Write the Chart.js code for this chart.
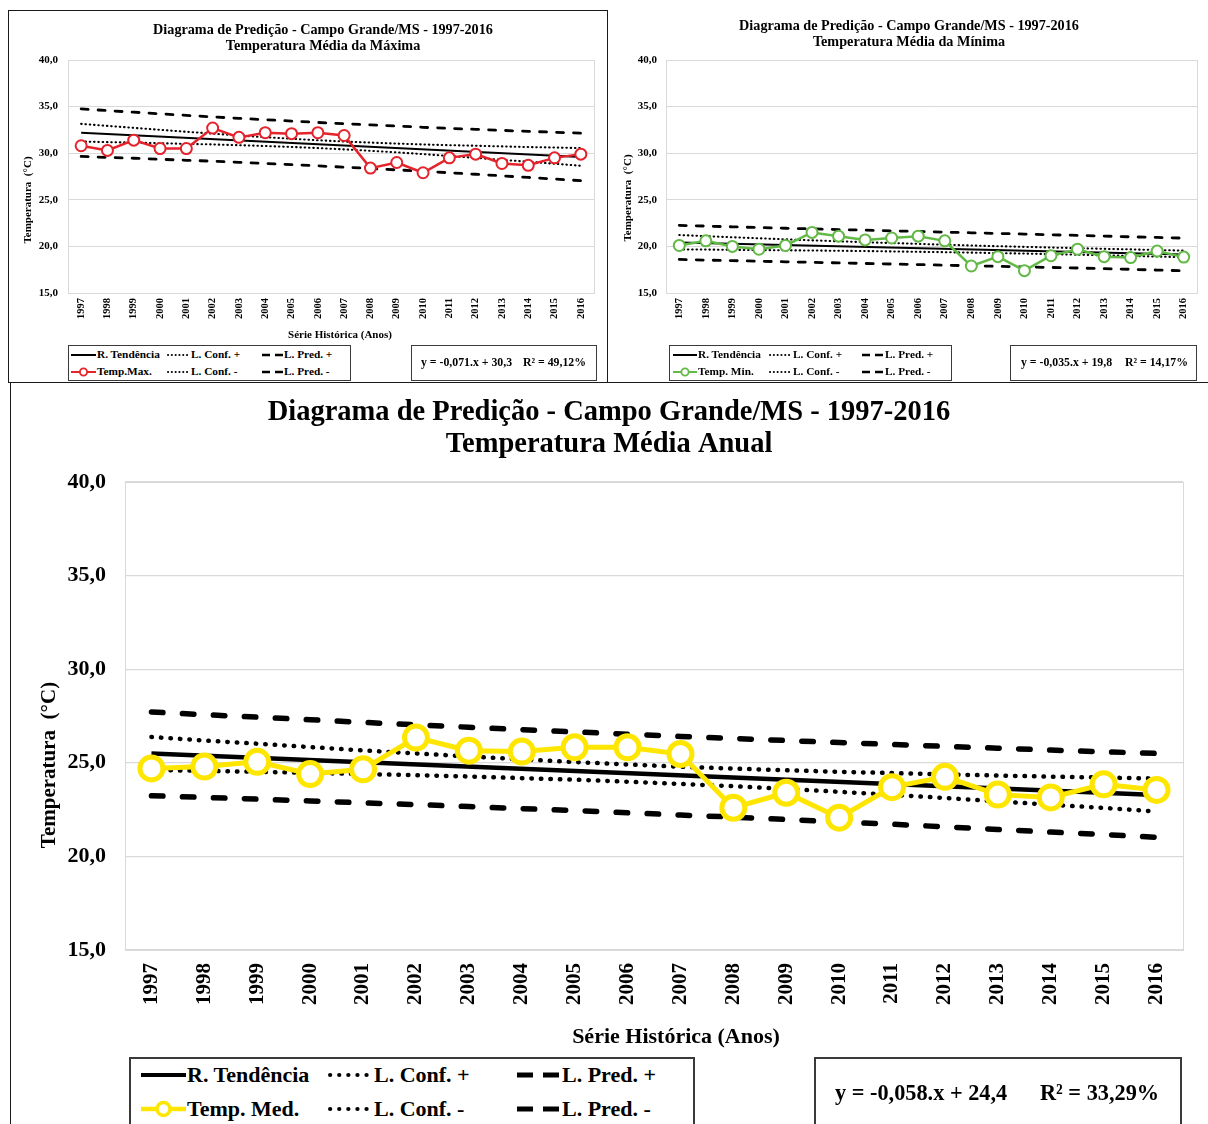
<!DOCTYPE html>
<html lang="pt-BR">
<head>
<meta charset="utf-8">
<title>Diagrama de Predição - Campo Grande/MS - 1997-2016</title>
<script src="https://cdn.jsdelivr.net/npm/chart.js@4.4.1/dist/chart.umd.min.js"></script>
<style>
body { margin: 0; background: #fff; }
#page { position: relative; width: 1208px; height: 1124px; overflow: hidden;
        font-family: 'Liberation Serif', 'Times New Roman', serif; font-weight: bold; color: #000; }
canvas, .panel, .box, .lg, .smp { position: absolute; }
.panel { box-sizing: border-box; border: 0 solid #1a1a1a; }
.box { box-sizing: border-box; border: 1.5px solid #3a3a3a; background: #fff; }
.lg { white-space: pre; transform: translateY(-50%); line-height: 1; }
</style>
</head>
<body>
<div id="page">
  <div class="panel" style="left:8px;top:10px;width:600px;height:373px;border-width:1px"></div>
  <div class="panel" style="left:607px;top:10px;width:601px;height:373px;border-bottom-width:1px"></div>
  <div class="panel" style="left:10px;top:382px;width:1198px;height:742px;border-left-width:1px;border-top-width:1px"></div>
  <canvas id="cMax" width="599" height="372" style="left:8px;top:10px"></canvas>
  <canvas id="cMin" width="601" height="372" style="left:607px;top:10px"></canvas>
  <canvas id="cMed" width="1198" height="741" style="left:10px;top:383px"></canvas>
</div>
<script>
// ---- data ----
const years = ['1997','1998','1999','2000','2001','2002','2003','2004','2005','2006',
               '2007','2008','2009','2010','2011','2012','2013','2014','2015','2016'];

// Temperatura média da máxima
const tempMax   = [30.8, 30.3, 31.4, 30.5, 30.5, 32.7, 31.7, 32.2, 32.1, 32.2, 31.9, 28.4, 29.0, 27.9, 29.5, 29.9, 28.9, 28.7, 29.5, 29.9];
const maxTrend  = [32.20, 29.60]; // 1997, 2016
const maxConfUp = [33.15, 32.93, 32.72, 32.51, 32.30, 32.10, 31.90, 31.71, 31.55, 31.39, 31.25, 31.14, 31.03, 30.94, 30.86, 30.80, 30.73, 30.66, 30.61, 30.55];
const maxConfDn = [31.25, 31.19, 31.14, 31.07, 31.00, 30.94, 30.86, 30.77, 30.67, 30.55, 30.41, 30.26, 30.09, 29.90, 29.70, 29.50, 29.29, 29.08, 28.87, 28.65];
const maxPredUp = [34.75, 34.57, 34.40, 34.23, 34.06, 33.90, 33.74, 33.59, 33.45, 33.30, 33.16, 33.04, 32.91, 32.78, 32.66, 32.56, 32.45, 32.34, 32.25, 32.15];
const maxPredDn = [29.65, 29.55, 29.46, 29.35, 29.24, 29.14, 29.02, 28.89, 28.77, 28.64, 28.50, 28.36, 28.21, 28.06, 27.90, 27.74, 27.57, 27.40, 27.23, 27.05];

// Temperatura média da mínima
const tempMin   = [20.1, 20.6, 20.0, 19.7, 20.1, 21.5, 21.1, 20.7, 20.9, 21.1, 20.6, 17.9, 18.9, 17.4, 19.0, 19.7, 18.9, 18.8, 19.5, 18.85];
const minTrend  = [20.42, 19.12];
const minConfUp = [21.22, 21.10, 20.98, 20.87, 20.76, 20.65, 20.55, 20.45, 20.36, 20.27, 20.18, 20.10, 20.02, 19.95, 19.88, 19.81, 19.74, 19.68, 19.61, 19.55];
const minConfDn = [19.68, 19.66, 19.63, 19.61, 19.58, 19.56, 19.53, 19.50, 19.46, 19.42, 19.38, 19.33, 19.28, 19.23, 19.17, 19.11, 19.05, 18.98, 18.91, 18.84];
const minPredUp = [22.26, 22.18, 22.10, 22.02, 21.95, 21.88, 21.81, 21.74, 21.67, 21.60, 21.53, 21.46, 21.39, 21.32, 21.25, 21.18, 21.11, 21.03, 20.96, 20.89];
const minPredDn = [18.60, 18.53, 18.47, 18.41, 18.35, 18.29, 18.23, 18.17, 18.11, 18.05, 17.98, 17.92, 17.86, 17.80, 17.74, 17.68, 17.61, 17.54, 17.46, 17.38];

// Temperatura média anual
const tempMed   = [24.7, 24.8, 25.05, 24.4, 24.65, 26.35, 25.65, 25.6, 25.83, 25.83, 25.47, 22.6, 23.4, 22.07, 23.7, 24.25, 23.3, 23.15, 23.85, 23.55];
const medTrend  = [25.50, 23.28];
const medConfUp = [26.38, 26.19, 26.02, 25.84, 25.66, 25.50, 25.34, 25.18, 25.04, 24.91, 24.79, 24.69, 24.60, 24.52, 24.45, 24.38, 24.32, 24.26, 24.21, 24.16];
const medConfDn = [24.62, 24.57, 24.52, 24.46, 24.40, 24.34, 24.27, 24.18, 24.10, 23.99, 23.87, 23.75, 23.60, 23.45, 23.29, 23.12, 22.94, 22.76, 22.59, 22.40];
const medPredUp = [27.72, 27.57, 27.44, 27.30, 27.16, 27.03, 26.90, 26.77, 26.65, 26.53, 26.41, 26.30, 26.19, 26.08, 25.98, 25.88, 25.78, 25.68, 25.59, 25.50];
const medPredDn = [23.24, 23.15, 23.06, 22.96, 22.86, 22.77, 22.66, 22.55, 22.45, 22.33, 22.21, 22.10, 21.97, 21.84, 21.72, 21.58, 21.44, 21.30, 21.17, 21.02];

const mainTitle = 'Diagrama de Predição - Campo Grande/MS - 1997-2016';
const yTitle = 'Temperatura  (°C)';
const xTitle = 'Série Histórica (Anos)';
const eqMax = ['y = -0,071.x + 30,3', 'R² = 49,12%'];
const eqMin = ['y = -0,035.x + 19,8', 'R² = 14,17%'];
const eqMed = ['y = -0,058.x + 24,4', 'R² = 33,29%'];

// ---- drawing ----
const SERIF = "'Liberation Serif', 'Times New Roman', serif";
const page = document.getElementById('page');

// trend line only has its two ends, the rest is spanned
const ends = v => years.map((y, i) => i === 0 ? v[0] : (i === years.length - 1 ? v[1] : null));

function framePlugin(texts) {
  return {
    id: 'frameText',
    beforeDatasetsDraw(chart) {
      const a = chart.chartArea, ctx = chart.ctx;
      ctx.save();
      ctx.strokeStyle = '#d9d9d9';
      ctx.lineWidth = 1;
      ctx.strokeRect(Math.round(a.left) + 0.5, Math.round(a.top) + 0.5, Math.round(a.right - a.left), Math.round(a.bottom - a.top));
      ctx.restore();
    },
    afterDraw(chart) {
      const ctx = chart.ctx;
      for (const t of texts) {
        ctx.save();
        ctx.font = 'bold ' + t.size + 'px ' + SERIF;
        ctx.fillStyle = '#000';
        ctx.textAlign = 'center';
        ctx.textBaseline = 'middle';
        ctx.translate(t.x, t.y);
        if (t.rot) ctx.rotate(-Math.PI / 2);
        ctx.fillText(t.text, 0, 0);
        ctx.restore();
      }
    }
  };
}

function makeChart(id, s) {
  const black = { borderColor: '#000', pointRadius: 0, fill: false };
  const dots = Object.assign({}, black, { borderWidth: s.dotW, borderDash: [0.5, s.dotGap], borderCapStyle: 'round' });
  const dash = Object.assign({}, black, { borderWidth: s.dashW, borderDash: s.dash, borderCapStyle: 'round' });
  const tickFont = { family: SERIF, weight: 'bold', size: s.tick };
  const yFont = { family: SERIF, weight: 'bold', size: s.ytick };

  return new Chart(document.getElementById(id), {
    type: 'line',
    data: {
      labels: years,
      datasets: [
        { label: s.name, data: s.temp, borderColor: s.color, borderWidth: s.lineW,
          pointRadius: s.r, pointBorderWidth: s.pb, pointBackgroundColor: '#fff', pointBorderColor: s.color },
        Object.assign({ label: 'R. Tendência', data: ends(s.trend), spanGaps: true, borderWidth: s.trendW }, black),
        Object.assign({ label: 'L. Conf. +', data: s.confUp }, dots),
        Object.assign({ label: 'L. Conf. -', data: s.confDn }, dots),
        Object.assign({ label: 'L. Pred. +', data: s.predUp }, dash),
        Object.assign({ label: 'L. Pred. -', data: s.predDn }, dash)
      ]
    },
    options: {
      responsive: false,
      animation: false,
      events: [],
      layout: { padding: { left: 0, right: s.pr, top: s.pt, bottom: 0 } },
      plugins: { legend: { display: false }, tooltip: { enabled: false }, title: { display: false } },
      scales: {
        x: {
          offset: true,
          grid: { display: false, drawTicks: false },
          border: { display: false },
          ticks: { autoSkip: false, minRotation: 90, maxRotation: 90, padding: s.xPad, color: '#000', font: tickFont },
          afterFit: a => { a.height = s.xH; }
        },
        y: {
          min: 15, max: 40,
          grid: { color: '#d9d9d9', drawTicks: false, lineWidth: s.gridW },
          border: { display: false },
          ticks: { stepSize: 5, padding: s.yPad, color: '#000', font: yFont,
                   callback: v => v.toFixed(1).replace('.', ',') },
          afterFit: a => { a.width = s.yW; }
        }
      }
    },
    plugins: [framePlugin(s.texts)]
  });
}

// ---- html legend / equation boxes ----
function addBox(b) {
  const d = document.createElement('div');
  d.className = 'box';
  Object.assign(d.style, { left: b.l + 'px', top: b.t + 'px', width: b.w + 'px', height: b.h + 'px', borderWidth: b.bw + 'px' });
  page.appendChild(d);
}
function addText(txt, x, cy, size) {
  const d = document.createElement('div');
  d.className = 'lg';
  d.textContent = txt;
  Object.assign(d.style, { left: x + 'px', top: cy + 'px', fontSize: size + 'px' });
  page.appendChild(d);
}
function addSample(kind, x, cy, len, st, color) {
  const h = 24, m = h / 2;
  let body = '';
  if (kind === 'solid') {
    body = `<line x1="0" y1="${m}" x2="${len}" y2="${m}" stroke="#000" stroke-width="${st.trend}"/>`;
  } else if (kind === 'dot') {
    body = `<line x1="${st.dot / 2}" y1="${m}" x2="${len}" y2="${m}" stroke="#000" stroke-width="${st.dot}" stroke-linecap="round" stroke-dasharray="0.1 ${st.gap}"/>`;
  } else if (kind === 'dash') {
    body = `<line x1="0" y1="${m}" x2="${len}" y2="${m}" stroke="#000" stroke-width="${st.dash}" stroke-dasharray="${st.dashArr}"/>`;
  } else {
    body = `<line x1="0" y1="${m}" x2="${len}" y2="${m}" stroke="${color}" stroke-width="${st.lw}"/>` +
           `<circle cx="${len / 2}" cy="${m}" r="${st.r}" fill="#fff" stroke="${color}" stroke-width="${st.sw}"/>`;
  }
  const d = document.createElement('div');
  d.className = 'smp';
  Object.assign(d.style, { left: x + 'px', top: (cy - m) + 'px' });
  d.innerHTML = `<svg width="${len}" height="${h}" xmlns="http://www.w3.org/2000/svg">${body}</svg>`;
  page.appendChild(d);
}
function addLegend(chart, L) {
  addBox(L.box);
  const ds = chart.data.datasets;
  const grid = [
    [['solid', ds[1].label], ['dot', ds[2].label], ['dash', ds[4].label]],
    [['mark', ds[0].label], ['dot', ds[3].label], ['dash', ds[5].label]]
  ];
  grid.forEach((row, r) => row.forEach(([kind, label], c) => {
    const col = L.cols[c];
    addSample(kind, col.sx, L.rows[r], col.len, L.st, ds[0].borderColor);
    addText(label, col.sx + col.len + 1, L.rows[r], L.fs);
  }));
  addBox(L.eqBox);
  addText(L.eq[0], L.eqX[0], L.eqY, L.eqFs);
  addText(L.eq[1], L.eqX[1], L.eqY, L.eqFs);
}

const smallSt = { trend: 2, dot: 2, gap: 3.7, dash: 2.6, dashArr: '8 5', lw: 2, r: 3.6, sw: 1.8 };
const bigSt = { trend: 4, dot: 4.2, gap: 9, dash: 5, dashArr: '16 10', lw: 4.5, r: 6.5, sw: 3.5 };

const smallLines = { lineW: 2.5, r: 5.5, pb: 2, trendW: 2, dotW: 2.1, dotGap: 3.8, dashW: 2.8, dash: [7, 10],
                     tick: 10.5, ytick: 11, gridW: 1 };

const chartMax = makeChart('cMax', Object.assign({}, smallLines, {
  name: 'Temp.Max.', color: '#e4232b', temp: tempMax, trend: maxTrend,
  confUp: maxConfUp, confDn: maxConfDn, predUp: maxPredUp, predDn: maxPredDn,
  pr: 13, pt: 50, xH: 89, yW: 60, xPad: 5, yPad: 10,
  texts: [
    { text: mainTitle, x: 315, y: 20, size: 14.2 },
    { text: 'Temperatura Média da Máxima', x: 315, y: 36, size: 14.2 },
    { text: yTitle, x: 20, y: 190, size: 11, rot: true },
    { text: xTitle, x: 332, y: 325, size: 11 }
  ]
}));

const chartMin = makeChart('cMin', Object.assign({}, smallLines, {
  name: 'Temp. Min.', color: '#62b946', temp: tempMin, trend: minTrend,
  confUp: minConfUp, confDn: minConfDn, predUp: minPredUp, predDn: minPredDn,
  pr: 11, pt: 50, xH: 89, yW: 59, xPad: 5, yPad: 9,
  texts: [
    { text: mainTitle, x: 302, y: 16, size: 14.2 },
    { text: 'Temperatura Média da Mínima', x: 302, y: 32, size: 14.2 },
    { text: yTitle, x: 21, y: 188, size: 11, rot: true }
  ]
}));

const chartMed = makeChart('cMed', {
  name: 'Temp. Med.', color: '#ffe600', temp: tempMed, trend: medTrend,
  confUp: medConfUp, confDn: medConfDn, predUp: medPredUp, predDn: medPredDn,
  lineW: 5, r: 11.5, pb: 5, trendW: 4.5, dotW: 4.5, dotGap: 9, dashW: 5.5, dash: [11.5, 19.5],
  tick: 21, ytick: 22, gridW: 1.2,
  pr: 25, pt: 99, xH: 174, yW: 115, xPad: 13, yPad: 19,
  texts: [
    { text: mainTitle, x: 599, y: 30, size: 28.5 },
    { text: 'Temperatura Média Anual', x: 599, y: 62, size: 28.5 },
    { text: yTitle, x: 40, y: 382, size: 21, rot: true },
    { text: xTitle, x: 666, y: 654, size: 22 }
  ]
});

addLegend(chartMax, {
  box: { l: 68, t: 345, w: 283, h: 36, bw: 1.2 }, rows: [355, 372], fs: 11.3, eqFs: 11.8, st: smallSt,
  cols: [{ sx: 71, len: 25 }, { sx: 167, len: 23 }, { sx: 262, len: 21 }],
  eqBox: { l: 411, t: 345, w: 186, h: 36, bw: 1.2 }, eq: eqMax, eqX: [421, 523], eqY: 363
});
addLegend(chartMin, {
  box: { l: 669, t: 345, w: 283, h: 36, bw: 1.2 }, rows: [355, 372], fs: 11.3, eqFs: 11.8, st: smallSt,
  cols: [{ sx: 673, len: 24 }, { sx: 769, len: 23 }, { sx: 862, len: 22 }],
  eqBox: { l: 1010, t: 345, w: 187, h: 36, bw: 1.2 }, eq: eqMin, eqX: [1021, 1125], eqY: 363
});
addLegend(chartMed, {
  box: { l: 129, t: 1057, w: 566, h: 90, bw: 2 }, rows: [1075, 1109], fs: 22, eqFs: 22.3, st: bigSt,
  cols: [{ sx: 141, len: 45 }, { sx: 328, len: 45 }, { sx: 517, len: 44 }],
  eqBox: { l: 814, t: 1057, w: 368, h: 90, bw: 2 }, eq: eqMed, eqX: [835, 1040], eqY: 1093
});
</script>
</body>
</html>
